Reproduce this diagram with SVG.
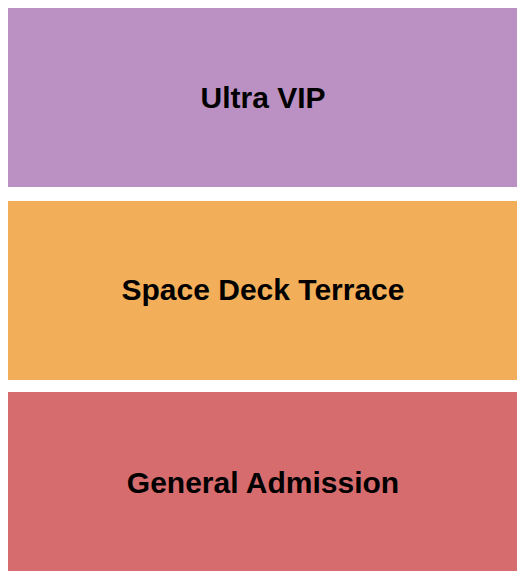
<svg xmlns="http://www.w3.org/2000/svg" width="525" height="580" viewBox="0 0 525 580">
<style>
.lbl{font-family:"Liberation Sans",Arial,sans-serif;font-weight:bold;font-size:30px;fill:#000;text-anchor:middle;dominant-baseline:central}
</style>
<rect width="525" height="580" fill="#fff"/>
<g id="ultra-vip"><rect x="8" y="8" width="509" height="179" fill="#BB90C3"/><text class="lbl" x="263" y="97">Ultra VIP</text></g>
<g id="space-deck-terrace"><rect x="8" y="201" width="509" height="179" fill="#F2AE59"/><text class="lbl" x="263" y="289">Space Deck Terrace</text></g>
<g id="general-admission"><rect x="8" y="392" width="509" height="179" fill="#D76C6E"/><text class="lbl" x="263" y="482">General Admission</text></g>
<g id="connectors"/>
</svg>
